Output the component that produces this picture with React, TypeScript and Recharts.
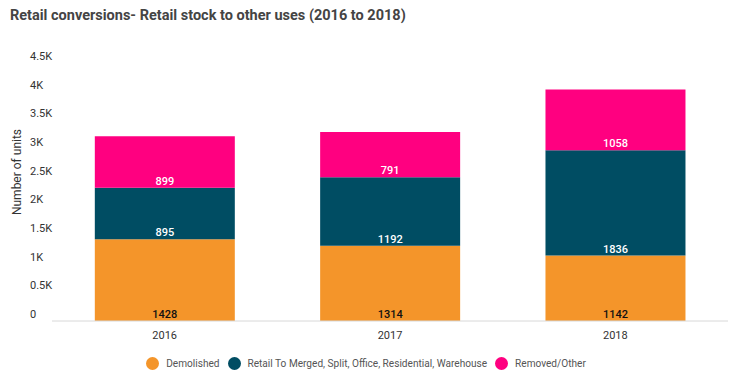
import { BarChart, Bar, XAxis, YAxis, LabelList } from 'recharts';

// ── Data ──────────────────────────────────────────────────────────────────────
const YEARS = ['2016', '2017', '2018'];
const DEMOLISHED = [1428, 1314, 1142];
const CONVERTED = [895, 1192, 1836];
const REMOVED = [899, 791, 1058];
const Y_TICKS = [0, 500, 1000, 1500, 2000, 2500, 3000, 3500, 4000, 4500];

const data = YEARS.map((year, i) => ({
  year,
  demolished: DEMOLISHED[i],
  converted: CONVERTED[i],
  removed: REMOVED[i],
}));

// ── Constants ─────────────────────────────────────────────────────────────────
const ORANGE = '#f4952a';
const TEAL = '#004d63';
const PINK = '#ff0080';
const TEXT = '#333333';
const FONT = 'Roboto, "Noto Sans", sans-serif';

const SERIES = [
  { key: 'demolished', name: 'Demolished', color: ORANGE, labelColor: '#111111' },
  { key: 'converted', name: 'Retail To Merged, Split, Office, Residential, Warehouse', color: TEAL, labelColor: '#ffffff' },
  { key: 'removed', name: 'Removed/Other', color: PINK, labelColor: '#ffffff' },
];

const fmtK = (v: number) => (v === 0 ? '0' : `${v / 1000}K`);

function YTick({ y, payload }: any) {
  return (
    <text x={30} y={y - 6} fill={TEXT} fontSize={11} fontFamily={FONT} dominantBaseline="middle">
      {fmtK(payload.value)}
    </text>
  );
}

function makeSegmentLabel(fill: string) {
  return function SegmentLabel({ x, y, width, height, value }: any) {
    return (
      <text
        x={x + width / 2}
        y={y + height - 3}
        textAnchor="middle"
        fill={fill}
        fontSize={11}
        fontWeight={500}
        fontFamily={FONT}
      >
        {value}
      </text>
    );
  };
}

export default function App() {
  return (
    <div style={{ position: 'absolute', left: 0, top: 0, width: 748, height: 378, background: '#fff', fontFamily: FONT }}>
      <div style={{ position: 'absolute', left: 10, top: 7, fontSize: 14.5, fontWeight: 700, color: '#444' }}>
        Retail conversions- Retail stock to other uses (2016 to 2018)
      </div>
      <BarChart
        width={748}
        height={378}
        data={data}
        margin={{ top: 63, right: 20, bottom: 27, left: 0 }}
        barCategoryGap="19%"
      >
        <XAxis
          dataKey="year"
          height={30}
          tick={{ fill: TEXT, fontSize: 11, fontFamily: FONT }}
          tickLine={false}
          axisLine={{ stroke: '#d8d8d8' }}
          tickMargin={4}
        />
        <YAxis
          domain={[0, 4500]}
          ticks={Y_TICKS}
          interval={0}
          width={52}
          axisLine={false}
          tickLine={false}
          tick={<YTick />}
          label={{
            value: 'Number of units',
            content: () => (
              <text
                x={18}
                y={172}
                transform="rotate(-90 18 172)"
                textAnchor="middle"
                dominantBaseline="middle"
                fill={TEXT}
                fontSize={12}
                fontFamily={FONT}
              >
                Number of units
              </text>
            ),
          }}
        />
        {SERIES.map(s => (
          <Bar key={s.key} dataKey={s.key} name={s.name} stackId="a" fill={s.color} isAnimationActive={false}>
            <LabelList dataKey={s.key} content={makeSegmentLabel(s.labelColor)} />
          </Bar>
        ))}
      </BarChart>
      <div
        style={{
          position: 'absolute',
          top: 357,
          left: 0,
          width: 748,
          boxSizing: 'border-box',
          display: 'flex',
          justifyContent: 'center',
          gap: 8,
          fontSize: 10.1,
          color: '#555',
          paddingRight: 16,
        }}
      >
        {SERIES.map(s => (
          <div key={s.key} style={{ display: 'flex', alignItems: 'center', gap: 7 }}>
            <span style={{ width: 13, height: 13, borderRadius: '50%', background: s.color, display: 'inline-block' }} />
            <span>{s.name}</span>
          </div>
        ))}
      </div>
    </div>
  );
}
